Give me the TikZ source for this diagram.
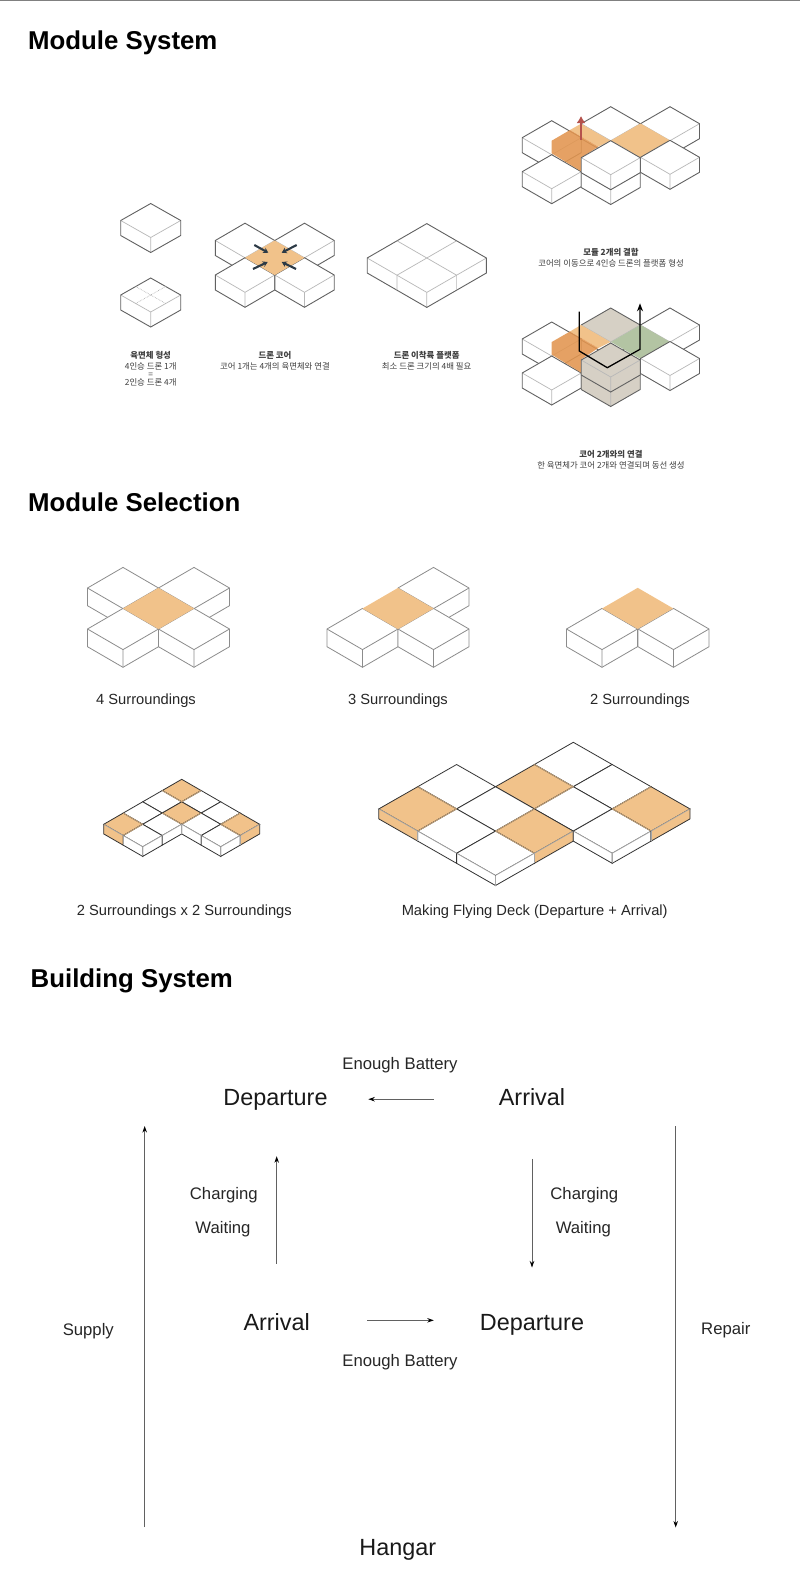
\documentclass[tikz,border=0pt]{standalone}
\usepackage{fontspec}
\setmainfont{Liberation Sans}
\newfontfamily\krfont{Noto Sans CJK KR}
\usetikzlibrary{arrows, arrows.meta, calc}

\definecolor{coreorange}{HTML}{F1C28A}
\definecolor{deeporange}{HTML}{E2954F}
\definecolor{coretan}{HTML}{D6D0C5}
\definecolor{coregreen}{HTML}{B3C4A3}
\definecolor{liftred}{HTML}{B5524C}
\definecolor{pushdark}{HTML}{2C3A46}
\definecolor{edgetan}{HTML}{C8A67C}

% box seen from above: [side colour]{top colour}{x}{y}{half width}{half height}{depth}
\newcommand{\isobox}[7][white]{
  \fill[#1] (#3-#5,#4) -- (#3,#4+#6) -- (#3+#5,#4) -- (#3+#5,#4+#7) -- (#3,#4+#6+#7) -- (#3-#5,#4+#7) -- cycle;
  \fill[#2] (#3-#5,#4) -- (#3,#4-#6) -- (#3+#5,#4) -- (#3,#4+#6) -- cycle;
  \draw[innerline] (#3-#5,#4) -- (#3,#4+#6) -- (#3+#5,#4) (#3,#4+#6) -- (#3,#4+#6+#7);
  \draw[outerline] (#3-#5,#4) -- (#3,#4-#6) -- (#3+#5,#4) -- (#3+#5,#4+#7) -- (#3,#4+#6+#7) -- (#3-#5,#4+#7) -- cycle;
}
% flat diamond
\newcommand{\isotop}[5]{
  \fill[#1] (#2-#4,#3) -- (#2,#3-#5) -- (#2+#4,#3) -- (#2,#3+#5) -- cycle;
}

\begin{document}
\begin{tikzpicture}[
    x=1pt, y=-1pt,
    title/.style={font=\fontsize{25.8}{26}\selectfont\bfseries, anchor=base west, inner sep=0pt},
    caption/.style={font=\krfont\fontsize{8.4}{11}\selectfont, align=center, inner sep=0pt, text=black!75},
    sublabel/.style={font=\fontsize{14.7}{16}\selectfont, anchor=base, inner sep=0pt, text=black!85},
    flowlabel/.style={font=\fontsize{16.7}{18}\selectfont, anchor=base, inner sep=0pt, text=black!85},
    statenode/.style={font=\fontsize{23.4}{25}\selectfont, anchor=base, inner sep=0pt, text height=18pt, text depth=5pt, text=black!90},
    arrow/.style={draw=black!62, line width=0.9pt, -{Stealth[black, length=6.5pt, width=4.5pt]}},
    innerline/.style={draw=black!28, line width=0.7pt},
    outerline/.style={draw=black!62, line width=0.9pt},
    deckline/.style={draw=black!80, line width=0.8pt},
    decklight/.style={draw=black!35, line width=0.7pt},
    decktan/.style={draw=edgetan, line width=0.8pt},
    pushline/.style={draw=pushdark, line width=2.1pt, -{Stealth[length=5pt, width=6pt]}}
]

\useasboundingbox (0,0) rectangle (800,1588);
\fill[white] (0,0) rectangle (800,1588);
\draw[black!50, line width=1pt] (0,0.5) -- (800,0.5);

% Titles
\node (titleSystem) [title] at (28,49.3) {Module System};
\node (titleSelection) [title] at (28,511.9) {Module Selection};
\node (titleBuilding) [title] at (30.5,987.9) {Building System};

% Single modules
\isobox{white}{150.7}{220.5}{30}{17}{15}
\isobox{white}{150.7}{295}{30}{17}{15}
\draw[black!35, line width=0.6pt, densely dotted] (135.7,286.5) -- (165.7,303.5) (165.7,286.5) -- (135.7,303.5);

% Drone core
\isobox{white}{245}{240.5}{29.7}{17.3}{15}
\isobox{white}{304.5}{240.5}{29.7}{17.3}{15}
\isobox{white}{245}{275}{29.7}{17.3}{15}
\isobox{white}{304.5}{275}{29.7}{17.3}{15}
\isotop{coreorange}{274.7}{257.8}{29.7}{17.3}
\draw[pushline] (254.3,245) -- (268.3,252.7);
\draw[pushline] (296.7,245) -- (281.7,252.7);
\draw[pushline] (253,269) -- (267.7,262);
\draw[pushline] (296,269) -- (281.7,262);

% Landing platform
\isobox{white}{426.8}{258}{59.6}{34.4}{15}
\draw[innerline] (397,240.8) -- (456.6,275.2) (456.6,240.8) -- (397,275.2) (397,275.2) -- (397,290.2) (456.6,275.2) -- (456.6,290.2);

% Two modules joined
\isobox{white}{551.7}{137.7}{29.5}{17}{15}
\isobox{white}{610.7}{123.7}{29.5}{17}{15}
\isobox{white}{670}{123.7}{29.5}{17}{15}
\isotop{coreorange}{640.5}{140.5}{29.5}{17}
\isobox{white}{670}{157.3}{29.5}{17}{15}
\isobox{white}{551.7}{171.7}{29.5}{17}{15}
\fill[coreorange] (570,130) -- (581,123.7) -- (610.5,140.7) -- (598.3,146.7) -- cycle;
\fill[deeporange, fill opacity=0.88] (551.7,140.7) -- (570,130) -- (598.3,146.7) -- (581.7,157.7) -- (581.7,171.7) -- (551.7,153.3) -- cycle;
\isobox{white}{610.7}{172.5}{29.5}{17}{15}
\isobox{white}{610.7}{157.7}{29.5}{17}{15}
\draw[liftred, line width=2.6pt, -{Latex[length=7pt, width=9pt]}] (581,140) -- (581,116);

% Two cores joined
\isobox{white}{551.7}{339}{29.5}{17}{15}
\isobox[white]{coretan}{610.7}{325}{29.5}{17}{15}
\isobox{white}{670}{325}{29.5}{17}{15}
\isotop{coregreen}{640.5}{342}{29.5}{17}
\isobox{white}{670}{358.5}{29.5}{17}{15}
\isobox{white}{551.7}{373}{29.5}{17}{15}
\fill[coreorange] (570,331.5) -- (581,325) -- (610.5,342) -- (598.3,348) -- cycle;
\fill[deeporange, fill opacity=0.88] (551.7,342) -- (570,331.5) -- (598.3,348) -- (581.7,359) -- (581.7,373) -- (551.7,354.6) -- cycle;
\isobox[coretan]{coretan}{610.7}{374.5}{29.5}{17}{15}
\isobox[coretan]{coretan}{610.7}{360}{29.5}{17}{15}
\draw[line width=1.3pt, -{Stealth[length=8pt, width=6pt]}] (579.3,311.7) -- (579.3,351) -- (607.3,367.7) -- (640,349.3) -- (640,303.3);

% Korean captions
\node (capCube) [caption] at (150.7,368.5) {\textbf{육면체 형성}\\[-0.5pt]4인승 드론 1개\\[-3pt]=\\[-3pt]2인승 드론 4개};
\node (capCore) [caption] at (275,360.5) {\textbf{드론 코어}\\코어 1개는 4개의 육면체와 연결};
\node (capDeck) [caption] at (426.7,360.5) {\textbf{드론 이착륙 플랫폼}\\최소 드론 크기의 4배 필요};
\node (capJoin) [caption] at (611,257.5) {\textbf{모듈 2개의 결합}\\코어의 이동으로 4인승 드론의 플랫폼 형성};
\node (capLink) [caption] at (611,459.5) {\textbf{코어 2개와의 연결}\\한 육면체가 코어 2개와 연결되며 동선 생성};

% Surroundings
\begin{scope}[innerline/.style={draw=black!45, line width=0.8pt}, outerline/.style={draw=black!45, line width=0.8pt}]
\isobox{white}{123}{588}{35.5}{20.6}{17.7}
\isobox{white}{194}{588}{35.5}{20.6}{17.7}
\isobox{white}{123}{629}{35.5}{20.6}{17.7}
\isobox{white}{194}{629}{35.5}{20.6}{17.7}
\isotop{coreorange}{158.5}{608.5}{35.5}{20.6}

\isobox{white}{433.5}{588}{35.5}{20.6}{17.7}
\isobox{white}{362.5}{629}{35.5}{20.6}{17.7}
\isobox{white}{433.5}{629}{35.5}{20.6}{17.7}
\isotop{coreorange}{398}{608.5}{35.5}{20.6}

\isobox{white}{602}{629}{35.5}{20.6}{17.7}
\isobox{white}{673.5}{629}{35.5}{20.6}{17.7}
\isotop{coreorange}{637.7}{608.4}{35.5}{20.6}
\end{scope}

\node (labFour) [sublabel] at (146,704) {4 Surroundings};
\node (labThree) [sublabel] at (398,704) {3 Surroundings};
\node (labTwo) [sublabel] at (640,704) {2 Surroundings};
\node (labDouble) [sublabel] at (184.3,915) {2 Surroundings x 2 Surroundings};
\node (labFlying) [sublabel] at (534.7,915) {Making Flying Deck (Departure + Arrival)};

% Small L deck
\begin{scope}[shift={(181.7,779.3)}, x={(19.5pt,-11.25pt)}, y={(-19.5pt,-11.25pt)}, z={(0pt,-9.6pt)}]
\foreach \i/\j/\c in {0/0/coreorange,1/0/white,2/0/white,3/0/coreorange,0/1/white,1/1/coreorange,2/1/white,3/1/white,0/2/white,1/2/white,0/3/coreorange,1/3/white}{
  \draw[deckline, fill=\c] (\i,\j,0) -- (\i+1,\j,0) -- (\i+1,\j+1,0) -- (\i,\j+1,0) -- cycle;
}
\foreach \a/\b/\k/\l in {1/0/1/1,0/1/1/1,1/2/2/2,2/1/2/2,0/3/1/3,1/3/1/4,3/0/3/1,3/1/4/1}{
  \draw[decktan] (\a,\b,0) -- (\k,\l,0);
}
\foreach \i/\j/\k/\l/\c in {0/4/1/4/coreorange,1/4/2/4/white,2/3/2/4/white,2/2/2/3/white,2/2/3/2/white,3/2/4/2/white,4/1/4/2/white,4/0/4/1/coreorange}{
  \fill[\c] (\i,\j,0) -- (\k,\l,0) -- (\k,\l,1) -- (\i,\j,1) -- cycle;
  \draw[decklight] (\i,\j,0) -- (\k,\l,0);
  \draw[deckline] (\i,\j,0) -- (\i,\j,1) -- (\k,\l,1) -- (\k,\l,0);
}
\foreach \i/\j in {2/4,4/2,2/2,1/4,4/1}{
  \draw[decklight] (\i,\j,0) -- (\i,\j,1);
}
\end{scope}

% Flying deck
\begin{scope}[shift={(573.3,742.3)}, x={(38.9pt,-22.2pt)}, y={(-38.9pt,-22.2pt)}, z={(0pt,-10pt)}]
\foreach \i/\j/\c in {0/0/white,1/0/white,2/0/coreorange,0/1/coreorange,1/1/white,2/1/white,-1/2/white,0/2/white,1/2/coreorange,-1/3/coreorange,0/3/white,1/3/white}{
  \draw[deckline, fill=\c] (\i,\j,0) -- (\i+1,\j,0) -- (\i+1,\j+1,0) -- (\i,\j+1,0) -- cycle;
}
\foreach \a/\b/\k/\l in {-1/3/0/3,0/3/0/4,0/1/1/1,1/1/1/2,1/2/1/3,1/3/2/3,2/0/2/1,2/1/3/1}{
  \draw[decktan] (\a,\b,0) -- (\k,\l,0);
}
\foreach \i/\j/\k/\l/\c in {-1/4/0/4/coreorange,0/4/1/4/white,1/4/2/4/white,2/3/2/4/white,2/2/2/3/coreorange,2/2/3/2/white,3/1/3/2/white,3/0/3/1/coreorange}{
  \fill[\c] (\i,\j,0) -- (\k,\l,0) -- (\k,\l,1) -- (\i,\j,1) -- cycle;
  \draw[decklight] (\i,\j,0) -- (\k,\l,0);
  \draw[deckline] (\i,\j,0) -- (\i,\j,1) -- (\k,\l,1) -- (\k,\l,0);
}
\foreach \i/\j in {2/4,3/2,0/4,2/3,3/1}{
  \draw[decklight] (\i,\j,0) -- (\i,\j,1);
}
\end{scope}

% Building system
\node (depTop) [statenode] at (275.5,1105.7) {Departure};
\node (arrTop) [statenode] at (532,1105.7) {Arrival};
\node (arrLow) [statenode] at (276.7,1330) {Arrival};
\node (depLow) [statenode] at (532,1330) {Departure};
\node (hangar) [statenode] at (397.8,1555) {Hangar};

\node (batteryTop) [flowlabel] at (400,1069.3) {Enough Battery};
\node (batteryLow) [flowlabel] at (400,1366) {Enough Battery};
\node (chargeLeft) [flowlabel] at (223.8,1199.3) {Charging};
\node (waitLeft) [flowlabel] at (223,1233.7) {Waiting};
\node (chargeRight) [flowlabel] at (584.3,1199.3) {Charging};
\node (waitRight) [flowlabel] at (583.3,1233.7) {Waiting};
\node (supply) [flowlabel] at (88.3,1335) {Supply};
\node (repair) [flowlabel] at (725.8,1334.5) {Repair};

\coordinate (supplyStart) at (144.7,1527);
\coordinate (supplyEnd) at (144.7,1126);
\coordinate (repairStart) at (675.7,1126);
\coordinate (repairEnd) at (675.7,1527.5);

\draw[arrow, shorten <=65pt, shorten >=40.6pt] (arrTop.west) -- (depTop.east);
\draw[arrow, shorten <=47.9pt, shorten >=45.3pt] (arrLow.north) -- (arrLow.north |- depTop.south);
\draw[arrow, shorten <=48pt, shorten >=44.3pt] (arrTop.south) -- (depLow.north);
\draw[arrow, shorten <=57.2pt, shorten >=46pt] ($(arrLow.east)+(0,-3.2)$) -- ($(depLow.west)+(0,-3.2)$);
\draw[arrow] (supplyStart) -- (supplyEnd);
\draw[arrow] (repairStart) -- (repairEnd);

\end{tikzpicture}
\end{document}
